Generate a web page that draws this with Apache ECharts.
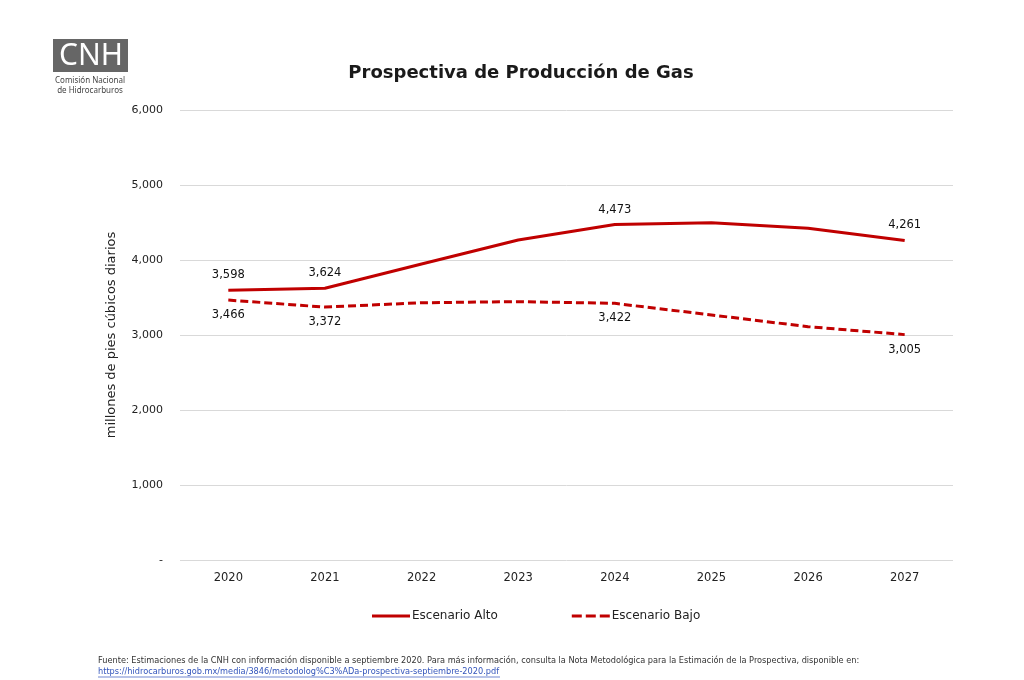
<!DOCTYPE html>
<html><head><meta charset="utf-8">
<script src="https://cdn.jsdelivr.net/npm/echarts@6/dist/echarts.min.js"></script>
<style>html,body{margin:0;padding:0;background:#fff}#c{width:1024px;height:680px}</style>
</head><body><div id="c"></div>
<script>
const years = ['2020','2021','2022','2023','2024','2025','2026','2027'];
const alto = [3598, 3624, 3947, 4267, 4473, 4497, 4422, 4261];
const bajo = [3466, 3372, 3430, 3445, 3422, 3267, 3111, 3005];
const altoLabeled = [0, 1, 4, 7];
const bajoLabeled = [0, 1, 4, 7];

const font = '"DejaVu Sans", sans-serif';
const red = '#c00000';
const fmt = v => v.toLocaleString('en-US');
function pts(vals, labeled) {
  return labeled.map(i => [years[i], vals[i]]);
}
const labelStyle = (pos) => ({show: true, position: pos, distance: 9, fontFamily: font, fontSize: 11.5, color: '#111',
  formatter: p => fmt(p.value[1])});
const chart = echarts.init(document.getElementById('c'));
chart.setOption({
  animation: false,
  title: {text: 'Prospectiva de Producción de Gas', left: 516, textAlign: 'center', top: 59,
    textStyle: {fontFamily: font, fontSize: 18, fontWeight: 'bold', color: '#1a1a1a'}},
  grid: {left: 180, right: 71, top: 110, bottom: 120},
  legend: {top: 605, left: 367, itemGap: 74, itemWidth: 38, itemHeight: 3,
    textStyle: {fontFamily: font, fontSize: 12, color: '#222', padding: [0, 0, 0, -3]},
    data: [
      {name: 'Escenario Alto', icon: 'rect'},
      {name: 'Escenario Bajo', icon: 'path://M0,0h10v3h-10zM14,0h10v3h-10zM28,0h10v3h-10z'}
    ]},
  xAxis: {type: 'category', data: years,
    axisLine: {show: false}, axisTick: {show: false},
    axisLabel: {fontFamily: font, fontSize: 11.5, color: '#222', margin: 12}},
  yAxis: {type: 'value', min: 0, max: 6000, interval: 1000,
    name: 'millones de pies cúbicos diarios', nameLocation: 'middle', nameGap: 62,
    nameTextStyle: {fontFamily: font, fontSize: 13, color: '#222'},
    axisLabel: {fontFamily: font, fontSize: 11, color: '#222', margin: 17,
      formatter: v => v === 0 ? '-' : fmt(v)},
    splitLine: {lineStyle: {color: '#d9d9d9', width: 1}}},
  series: [
    {name: 'Escenario Alto', type: 'line', data: alto,
      symbol: 'none', lineStyle: {color: red, width: 3}, itemStyle: {color: red}},
    {name: 'Escenario Bajo', type: 'line', data: bajo,
      symbol: 'none', lineStyle: {color: red, width: 3, type: [8, 4]}, itemStyle: {color: red}},
    {name: 'lblAlto', type: 'scatter', data: pts(alto, altoLabeled), symbolSize: 0,
      itemStyle: {opacity: 1}, label: labelStyle('top'), silent: true},
    {name: 'lblBajo', type: 'scatter', data: pts(bajo, bajoLabeled), symbolSize: 0,
      itemStyle: {opacity: 1}, label: labelStyle('bottom'), silent: true}
  ],
  graphic: [
    {type: 'rect', shape: {x: 53, y: 39, width: 75, height: 33}, style: {fill: '#666'}},
    {type: 'text', x: 91, y: 56, style: {text: 'CNH', fill: '#fff', font: '30px "Noto Sans", sans-serif',
      textAlign: 'center', textVerticalAlign: 'middle'}},
    {type: 'text', x: 90, y: 81, style: {text: 'Comisión Nacional', fill: '#444', font: '8px "Noto Sans", sans-serif',
      textAlign: 'center', textVerticalAlign: 'middle'}},
    {type: 'text', x: 90, y: 91, style: {text: 'de Hidrocarburos', fill: '#444', font: '8px "Noto Sans", sans-serif',
      textAlign: 'center', textVerticalAlign: 'middle'}},
    {type: 'text', x: 98, y: 661, style: {text: 'Fuente: Estimaciones de la CNH con información disponible a septiembre 2020. Para más información, consulta la Nota Metodológica para la Estimación de la Prospectiva, disponible en:',
      fill: '#333', font: '8.2px "DejaVu Sans", sans-serif', textVerticalAlign: 'middle'}},
    {type: 'text', x: 98, y: 672, style: {text: 'https://hidrocarburos.gob.mx/media/3846/metodolog%C3%ADa-prospectiva-septiembre-2020.pdf',
      fill: '#3355bb', font: '8.2px "DejaVu Sans", sans-serif', textVerticalAlign: 'middle'}},
    {type: 'line', shape: {x1: 98, y1: 677, x2: 500, y2: 677}, style: {stroke: '#3355bb', lineWidth: 0.7}}
  ]
});
</script></body></html>
